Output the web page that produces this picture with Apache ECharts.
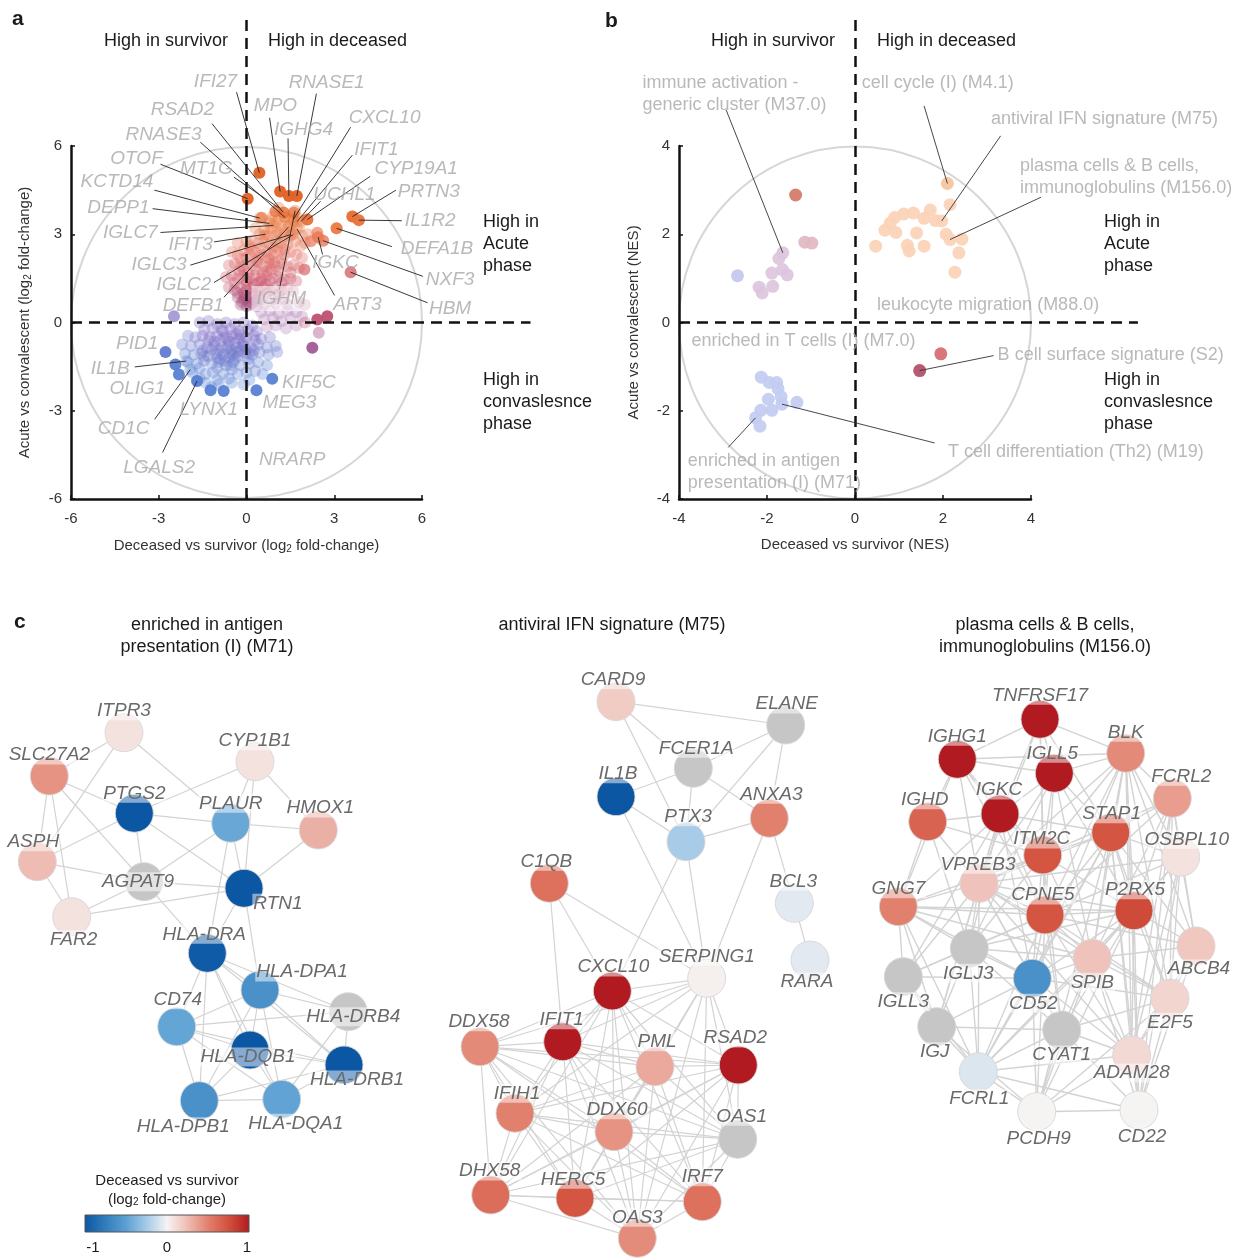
<!DOCTYPE html>
<html>
<head>
<meta charset="utf-8">
<title>Deceased vs survivor transcriptome</title>
<script src="https://cdn.jsdelivr.net/npm/echarts@6/dist/echarts.min.js"></script>
<style>
  html, body { margin: 0; padding: 0; background: #ffffff; }
  #chart { width: 1260px; height: 1258px; }
</style>
</head>
<body>
<div id="chart"></div>
<script>
// ================= DATA =================

// ---- a: genes, [deceased vs survivor log2FC, acute vs convalescent log2FC] ----
const aCloud = [
  [0.9,3.6],[1.1,3.5],[1.3,3.6],[1.5,3.5],[1.0,3.4],[1.6,3.4],[0.8,3.45],[1.2,3.3],[1.45,3.3],[1.75,3.55],
  [0.3,3.2],[0.6,3.15],[0.85,3.2],[1.05,3.1],[1.3,3.15],[1.55,3.1],[1.8,3.2],[0.45,3.0],[0.75,2.95],[1.0,2.95],[1.25,2.9],[1.5,2.95],[1.9,2.95],[2.1,3.0],
  [-0.3,2.7],[0.0,2.75],[0.2,2.8],[0.4,2.7],[0.6,2.75],[0.8,2.65],[1.0,2.75],[1.2,2.7],[1.4,2.65],[1.65,2.75],[1.85,2.6],[2.0,2.7],[0.1,2.6],[0.5,2.55],[0.9,2.55],[1.3,2.5],
  [-0.5,2.4],[-0.3,2.3],[-0.1,2.45],[0.1,2.35],[0.3,2.4],[0.5,2.3],[0.7,2.4],[0.9,2.3],[1.1,2.4],[1.3,2.3],[1.5,2.4],[1.7,2.3],[1.9,2.2],[0.0,2.2],[0.4,2.2],[0.8,2.15],[1.2,2.15],[-0.2,2.15],
  [-0.6,1.95],[-0.4,2.0],[-0.2,1.9],[0.0,2.0],[0.2,1.95],[0.4,2.05],[0.6,1.9],[0.8,2.0],[1.0,1.9],[1.2,2.0],[1.4,1.9],[1.6,1.95],[1.8,1.85],[-0.1,1.8],[0.3,1.8],[0.7,1.75],[1.1,1.75],[1.5,1.7],
  [-0.7,1.55],[-0.5,1.6],[-0.3,1.5],[-0.1,1.6],[0.1,1.5],[0.3,1.6],[0.5,1.5],[0.7,1.6],[0.9,1.5],[1.1,1.55],[1.3,1.45],[1.5,1.5],[1.7,1.4],[0.0,1.4],[0.4,1.35],[0.8,1.4],[1.2,1.35],[-0.4,1.35],
  [-0.6,1.2],[-0.4,1.1],[-0.2,1.2],[0.0,1.1],[0.2,1.2],[0.4,1.1],[0.6,1.2],[0.8,1.1],[1.0,1.2],[1.2,1.1],[1.4,1.15],[-0.1,1.0],[0.3,0.95],[0.7,1.0],[1.1,0.95],[1.6,1.05],
  [-0.3,0.85],[-0.1,0.8],[0.1,0.85],[0.3,0.75],[0.5,0.8],[0.9,0.8],[1.3,0.8],[-0.2,0.6],[0.0,0.55],[0.2,0.65],[0.6,0.6],[1.0,0.65],[1.4,0.6],[1.8,0.7],[2.0,0.6],
  [0.2,1.0],[0.5,1.4],[0.0,1.3],[-0.15,0.7],[0.05,0.7],[-0.05,0.9],
  [0.15,2.5],[0.35,2.1],[0.55,1.7],[0.75,2.2],[0.95,2.05],[0.25,1.3],[0.65,1.3],[0.85,1.8],[0.45,0.95],
  [0.05,1.65],[-0.25,1.75],[1.05,2.55],[0.6,2.95],[1.15,3.0],[-0.3,1.0],[0.15,0.6],[0.35,0.55],
  [0.5,0.35],[0.8,0.4],[1.1,0.3],[1.4,0.4],[1.7,0.35],[0.6,0.1],[0.9,0.15],[1.2,0.05],[1.5,0.15],[1.9,0.2],[0.7,-0.15],[1.0,-0.1],[1.35,-0.2],[1.7,-0.1],[2.0,0.0],
  [-1.6,0.0],[-1.3,0.05],[-1.0,-0.05],[-0.7,0.0],[-0.4,-0.05],[-0.1,0.0],[0.2,-0.1],[-1.45,-0.25],[-1.15,-0.2],[-0.85,-0.25],[-0.55,-0.2],[-0.25,-0.3],[0.05,-0.25],[0.35,-0.3],
  [-2.0,-0.45],[-1.75,-0.5],[-1.5,-0.45],[-1.25,-0.5],[-1.0,-0.45],[-0.75,-0.5],[-0.5,-0.45],[-0.25,-0.55],[0.0,-0.5],[0.25,-0.45],[0.5,-0.55],[0.8,-0.5],[-1.1,-0.65],[-0.6,-0.65],[-0.1,-0.65],
  [-2.2,-0.75],[-1.9,-0.8],[-1.6,-0.75],[-1.35,-0.85],[-1.1,-0.8],[-0.85,-0.85],[-0.6,-0.8],[-0.35,-0.85],[-0.1,-0.8],[0.15,-0.85],[0.4,-0.75],[0.7,-0.85],[1.0,-0.8],[-0.5,-0.95],[-0.2,-0.95],[-1.5,-0.95],
  [-2.1,-1.05],[-1.8,-1.1],[-1.55,-1.05],[-1.3,-1.15],[-1.05,-1.05],[-0.8,-1.1],[-0.55,-1.05],[-0.3,-1.15],[-0.05,-1.05],[0.2,-1.1],[0.45,-1.0],[0.75,-1.1],[1.05,-1.0],[-0.9,-1.25],[-0.4,-1.25],[0.05,-1.25],
  [-2.0,-1.35],[-1.7,-1.4],[-1.45,-1.3],[-1.2,-1.4],[-0.95,-1.35],[-0.7,-1.45],[-0.45,-1.35],[-0.2,-1.45],[0.1,-1.4],[0.4,-1.35],[0.7,-1.45],[-1.6,-1.55],[-1.0,-1.55],[-0.5,-1.6],
  [-1.85,-1.7],[-1.4,-1.75],[-1.15,-1.7],[-0.8,-1.75],[-0.3,-1.75],[0.0,-1.7],[0.3,-1.65],[0.55,-1.75],[-1.6,-1.9],[-1.0,-1.95],[-0.6,-1.9],[0.1,-1.95],
  [-1.4,-2.05],[-0.95,-2.1],[-0.5,-2.05],[-0.1,-2.1],[-1.2,-2.2],
  [-0.9,-0.6],[-0.7,-0.9],[-0.4,-0.7],[-0.2,-0.4],[-0.6,-1.2],[-0.3,-1.0],[0.0,-0.9],[-0.8,-0.3],[-1.2,-0.9],[0.3,-0.6],
  [-0.95,-0.95],[-0.65,-0.55],[-0.45,-1.1],[-0.15,-0.75],[-0.75,-1.3],[-1.3,-0.6],[-0.35,-0.4],[0.1,-1.05],
  [-1.0,-1.2],[-0.55,-1.45],[0.25,-0.95],[-1.45,-1.15]
];
const aSoft = [
  [0.99,3.78],[1.28,3.73],[1.62,3.73],[0.52,3.56],[2.42,3.05],[2.2,2.76],[2.62,2.78],[2.45,2.9],
  [1.98,1.8],[3.56,1.71],[2.47,-0.35],[-2.48,0.21]
];
const aSolid = [
  [0.44,5.09],[0.04,4.21],[1.15,4.45],[1.45,4.3],[1.72,4.3],[2.08,3.5],[3.08,3.2],[3.62,3.6],[3.84,3.48],
  [2.42,0.1],[2.76,0.21],[2.25,-0.86],
  [-2.77,-1.0],[-2.43,-1.43],[-2.31,-1.77],[-1.69,-1.99],[-1.23,-2.3],[-0.78,-2.33],[0.34,-2.3],[0.88,-1.91]
];
// annotated genes with their fold-changes
const aGenes = [
  ['IFI27',0.44,5.09],['RNASE1',1.72,4.3],['MPO',1.15,4.45],['RSAD2',1.25,3.75],['IGHG4',1.45,4.3],
  ['CXCL10',1.6,3.5],['RNASE3',1.32,3.57],['IFIT1',1.73,3.43],['OTOF',0.04,4.21],['MT1G',1.1,3.9],
  ['KCTD14',0.45,3.55],['DEPP1',0.78,3.37],['UCHL1',1.86,3.43],['CYP19A1',2.08,3.5],['PRTN3',3.62,3.6],
  ['IL1R2',3.84,3.48],['IGLC7',0.92,3.3],['DEFA1B',3.08,3.2],['IFIT3',0.65,3.0],['IGKC',2.45,2.9],
  ['NXF3',2.62,2.78],['IGLC3',1.52,2.99],['HBM',3.56,1.71],['IGLC2',1.6,2.99],['ART3',1.73,3.18],
  ['IGHM',1.66,3.8],['DEFB1',1.43,3.24],['IL1B',-2.06,-1.31],['CD1C',-1.92,-1.6],['LGALS2',-1.69,-1.99]
];

// ---- b: modules, [deceased vs survivor NES, acute vs convalescent NES] ----
const bUpperRight = [
  [2.1,3.15],[2.16,2.67],[1.71,2.55],[1.33,2.48],[1.11,2.46],[0.9,2.38],[1.57,2.36],[1.83,2.31],[1.97,2.3],
  [0.8,2.25],[0.68,2.09],[0.93,2.04],[1.4,2.03],[2.07,2.0],[0.47,1.73],[1.19,1.75],[1.57,1.73],[1.23,1.62],
  [2.16,1.88],[2.43,1.89],[2.36,1.58],[2.27,1.14]
];
const bUpperLeft = [
  [-1.35,2.89],[-1.14,1.82],[-0.98,1.80],[-1.64,1.58],[-1.73,1.45],[-1.65,1.2],[-1.54,1.08],[-1.89,1.12],
  [-2.67,1.06],[-2.18,0.8],[-1.87,0.82],[-2.11,0.67]
];
const bLowerLeft = [
  [-2.13,-1.24],[-1.95,-1.36],[-1.78,-1.36],[-1.75,-1.5],[-1.68,-1.68],[-1.97,-1.74],[-1.32,-1.81],
  [-1.66,-1.85],[-1.89,-1.99],[-2.14,-1.99],[-2.26,-2.16],[-2.16,-2.35]
];
const bLowerRight = [[1.95,-0.71],[1.47,-1.09]];
const bModules = [
  ['M37.0',-1.64,1.58],['M4.1',2.1,3.15],['M75',1.97,2.3],['M156.0',2.16,1.88],
  ['S2',1.47,-1.09],['M19',-1.66,-1.85],['M71',-2.26,-2.16]
];

// ---- c: module networks, node fold-change (null = not measured) ----
const n1Genes = ['ITPR3','SLC27A2','CYP1B1','PTGS2','PLAUR','HMOX1','ASPH','AGPAT9','RTN1','FAR2',
  'HLA-DRA','HLA-DPA1','HLA-DRB4','CD74','HLA-DQB1','HLA-DRB1','HLA-DPB1','HLA-DQA1'];
const n1FC = [0.08,0.42,0.08,-1,-0.45,0.3,0.25,null,-1,0.08,-0.97,-0.6,null,-0.47,-1,-1,-0.6,-0.48];
const n1Edges = {
  'ITPR3': 'SLC27A2 ASPH PLAUR',
  'SLC27A2': 'PTGS2 ASPH FAR2 AGPAT9',
  'CYP1B1': 'PTGS2 PLAUR RTN1 HMOX1',
  'PTGS2': 'PLAUR AGPAT9 ASPH RTN1',
  'PLAUR': 'HMOX1 AGPAT9 HLA-DRA RTN1',
  'HMOX1': 'RTN1',
  'ASPH': 'AGPAT9 FAR2',
  'AGPAT9': 'RTN1 FAR2 HLA-DRA',
  'FAR2': 'RTN1',
  'RTN1': 'HLA-DRA HLA-DPA1',
  'HLA-DRA': 'HLA-DPA1 CD74 HLA-DQB1 HLA-DRB4 HLA-DRB1 HLA-DPB1 HLA-DQA1',
  'HLA-DPA1': 'CD74 HLA-DRB4 HLA-DQB1 HLA-DRB1 HLA-DPB1 HLA-DQA1',
  'CD74': 'HLA-DRB4 HLA-DQB1 HLA-DPB1 HLA-DQA1 HLA-DRB1',
  'HLA-DQB1': 'HLA-DRB1 HLA-DPB1 HLA-DQA1',
  'HLA-DRB4': 'HLA-DRB1 HLA-DQA1',
  'HLA-DRB1': 'HLA-DQA1 HLA-DPB1',
  'HLA-DPB1': 'HLA-DQA1'
};

const n2Genes = ['CARD9','ELANE','FCER1A','IL1B','ANXA3','PTX3','C1QB','BCL3','RARA','SERPING1','CXCL10',
  'DDX58','IFIT1','PML','RSAD2','IFIH1','DDX60','OAS1','DHX58','HERC5','IRF7','OAS3'];
const n2FC = [0.18,null,null,-1,0.5,-0.24,0.58,-0.06,-0.06,0.02,1,0.46,1,0.33,1,0.5,0.42,null,0.6,0.72,0.58,0.45];
const n2Edges = {
  'CARD9': 'ELANE FCER1A PTX3',
  'ELANE': 'FCER1A ANXA3 PTX3',
  'FCER1A': 'IL1B PTX3 ANXA3',
  'IL1B': 'PTX3 SERPING1',
  'PTX3': 'ANXA3 CXCL10 SERPING1',
  'ANXA3': 'BCL3 SERPING1',
  'BCL3': 'RARA',
  'C1QB': 'SERPING1 CXCL10 IFIT1',
  'SERPING1': 'CXCL10 IFIT1 PML RSAD2 DDX60 OAS1 IRF7 OAS3 HERC5 IFIH1 DDX58',
  'CXCL10': 'DDX58 IFIT1 PML RSAD2 IFIH1 DDX60 OAS1 DHX58 HERC5 IRF7 OAS3',
  'DDX58': 'IFIT1 PML RSAD2 IFIH1 DDX60 OAS1 DHX58 HERC5 IRF7 OAS3',
  'IFIT1': 'PML RSAD2 IFIH1 DDX60 OAS1 DHX58 HERC5 IRF7 OAS3',
  'PML': 'RSAD2 IFIH1 DDX60 OAS1 DHX58 HERC5 IRF7 OAS3',
  'RSAD2': 'IFIH1 DDX60 OAS1 DHX58 HERC5 IRF7 OAS3',
  'IFIH1': 'DDX60 OAS1 DHX58 HERC5 IRF7 OAS3',
  'DDX60': 'OAS1 DHX58 HERC5 IRF7 OAS3',
  'OAS1': 'DHX58 HERC5 IRF7 OAS3',
  'DHX58': 'HERC5 IRF7 OAS3',
  'HERC5': 'IRF7 OAS3',
  'IRF7': 'OAS3'
};

const n3Genes = ['TNFRSF17','IGHG1','BLK','IGLL5','FCRL2','IGKC','IGHD','STAP1','OSBPL10','ITM2C','VPREB3',
  'GNG7','CPNE5','P2RX5','IGLJ3','ABCB4','SPIB','IGLL3','CD52','E2F5','IGJ','CYAT1','ADAM28','FCRL1','PCDH9','CD22'];
const n3FC = [1,1,0.46,1,0.38,1,0.65,0.72,0.08,0.72,0.22,0.5,0.72,0.78,null,0.2,0.22,null,-0.6,0.14,null,null,0.12,-0.08,0,0];
const n3Edges = {
  'TNFRSF17': 'IGLL5 IGKC ITM2C VPREB3 CPNE5 BLK IGHG1 STAP1',
  'IGHG1': 'IGLL5 IGKC IGHD VPREB3 ITM2C CPNE5 GNG7 BLK',
  'BLK': 'IGLL5 FCRL2 STAP1 ITM2C OSBPL10 P2RX5 SPIB E2F5 ADAM28 CD22 CPNE5 VPREB3 ABCB4 CD52',
  'IGLL5': 'IGKC ITM2C STAP1 CPNE5 VPREB3 P2RX5 IGLJ3 SPIB',
  'FCRL2': 'STAP1 OSBPL10 P2RX5 ABCB4 E2F5 ADAM28 CD22 SPIB ITM2C CPNE5',
  'IGKC': 'IGHD ITM2C VPREB3 CPNE5 IGLJ3 GNG7 IGLL3 STAP1 CD52 IGJ',
  'IGHD': 'VPREB3 GNG7 ITM2C IGLJ3',
  'STAP1': 'ITM2C OSBPL10 P2RX5 CPNE5 SPIB ABCB4 E2F5 ADAM28 CD22 VPREB3 CD52 PCDH9 FCRL1',
  'OSBPL10': 'P2RX5 ABCB4 E2F5 ADAM28 CD22 CPNE5 SPIB VPREB3',
  'ITM2C': 'VPREB3 CPNE5 P2RX5 IGLJ3 SPIB CD52 GNG7 CYAT1',
  'VPREB3': 'GNG7 CPNE5 IGLJ3 IGLL3 CD52 P2RX5 SPIB IGJ FCRL1 ADAM28 CYAT1 E2F5',
  'GNG7': 'IGLJ3 IGLL3 CPNE5 CD52 IGJ FCRL1 SPIB P2RX5',
  'CPNE5': 'P2RX5 IGLJ3 SPIB CD52 CYAT1 ADAM28 FCRL1 E2F5 IGLL3 PCDH9 ABCB4',
  'P2RX5': 'SPIB ABCB4 E2F5 ADAM28 CD22 CYAT1 CD52 PCDH9 FCRL1 IGLJ3',
  'IGLJ3': 'IGLL3 CD52 IGJ SPIB FCRL1 CYAT1',
  'ABCB4': 'E2F5 ADAM28 CD22 SPIB',
  'SPIB': 'CD52 E2F5 ADAM28 CYAT1 CD22 FCRL1 PCDH9',
  'IGLL3': 'IGJ CD52 FCRL1',
  'CD52': 'CYAT1 IGJ FCRL1 ADAM28 PCDH9 E2F5',
  'E2F5': 'ADAM28 CD22 CYAT1 PCDH9',
  'IGJ': 'FCRL1 PCDH9 CYAT1',
  'CYAT1': 'ADAM28 PCDH9 FCRL1 CD22',
  'ADAM28': 'CD22 PCDH9 FCRL1',
  'FCRL1': 'PCDH9 CD22',
  'PCDH9': 'CD22'
};

// ================= LAYOUT =================

// network layouts (layout units, y grows downwards)
const n1Layout = {
  'ITPR3':[12.4,5.27],'SLC27A2':[4.93,9.6],'CYP1B1':[25.5,8.17],'PTGS2':[13.43,13.33],'PLAUR':[23.07,14.33],
  'HMOX1':[31.83,15.0],'ASPH':[3.73,18.17],'AGPAT9':[14.4,20.17],'RTN1':[24.4,20.83],'FAR2':[7.17,23.67],
  'HLA-DRA':[20.73,27.33],'HLA-DPA1':[26.0,31.0],'HLA-DRB4':[34.83,33.17],'CD74':[17.67,34.67],
  'HLA-DQB1':[25.0,37.0],'HLA-DRB1':[34.4,38.5],'HLA-DPB1':[19.93,42.07],'HLA-DQA1':[28.17,41.93]
};
const n2Layout = {
  'CARD9':[18.6,2.17],'ELANE':[35.57,4.5],'FCER1A':[26.33,8.83],'IL1B':[18.6,11.67],'ANXA3':[33.93,13.83],
  'PTX3':[25.6,16.17],'C1QB':[11.93,20.33],'BCL3':[36.43,22.33],'RARA':[38.0,28.0],'SERPING1':[27.67,29.83],
  'CXCL10':[18.23,31.1],'DDX58':[5.0,36.67],'IFIT1':[13.27,36.17],'PML':[22.5,38.67],'RSAD2':[30.83,38.5],
  'IFIH1':[8.5,43.33],'DDX60':[18.4,45.17],'OAS1':[30.77,45.93],'DHX58':[6.07,51.5],'HERC5':[14.5,51.83],
  'IRF7':[27.23,52.17],'OAS3':[20.73,55.83]
};
const n3Layout = {
  'TNFRSF17':[18.0,3.93],'IGHG1':[9.73,7.93],'BLK':[26.57,7.33],'IGLL5':[19.43,9.33],'FCRL2':[31.23,11.83],
  'IGKC':[14.0,13.4],'IGHD':[6.77,14.17],'STAP1':[25.07,15.27],'OSBPL10':[32.07,17.73],'ITM2C':[18.27,17.5],
  'VPREB3':[11.9,20.33],'GNG7':[3.83,22.67],'CPNE5':[18.5,23.5],'P2RX5':[27.4,23.07],'IGLJ3':[10.93,26.83],
  'ABCB4':[33.6,26.6],'SPIB':[23.23,27.83],'IGLL3':[4.33,29.67],'CD52':[17.23,29.83],'E2F5':[31.0,31.83],
  'IGJ':[7.67,34.67],'CYAT1':[20.17,35.0],'ADAM28':[27.17,37.5],'FCRL1':[11.83,39.17],'PCDH9':[17.67,43.17],
  'CD22':[27.9,43.0]
};

// node label offsets (px from node centre)
const labelOffset = {
  'ITPR3':[0,-22],'SLC27A2':[0,-21],'CYP1B1':[0,-21],'PTGS2':[0,-20],'PLAUR':[0,-20],'HMOX1':[2,-22],
  'ASPH':[-4,-20],'AGPAT9':[-6,0],'RTN1':[34,15],'FAR2':[2,23],'HLA-DRA':[-3,-19],'HLA-DPA1':[42,-18],
  'HLA-DRB4':[5,5],'CD74':[1,-27],'HLA-DQB1':[-2,7],'HLA-DRB1':[13,15],'HLA-DPB1':[-16,26],'HLA-DQA1':[14,24],
  'CARD9':[-3,-22],'ELANE':[1,-21],'FCER1A':[3,-20],'IL1B':[2,-23],'ANXA3':[2,-24],'PTX3':[2,-25],
  'C1QB':[-3,-22],'BCL3':[-1,-22],'RARA':[-3,22],'SERPING1':[0,-22],'CXCL10':[1,-24],'DDX58':[-1,-25],
  'IFIT1':[-1,-22],'PML':[2,-25],'RSAD2':[-3,-27],'IFIH1':[2,-20],'DDX60':[3,-22],'OAS1':[4,-23],
  'DHX58':[-1,-24],'HERC5':[-2,-19],'IRF7':[0,-25],'OAS3':[0,-21],
  'TNFRSF17':[0,-24],'IGHG1':[0,-23],'BLK':[0,-21],'IGLL5':[-2,-20],'FCRL2':[9,-22],'IGKC':[-1,-24],
  'IGHD':[-3,-22],'STAP1':[1,-19],'OSBPL10':[6,-18],'ITM2C':[-1,-16],'VPREB3':[-1,-19],'GNG7':[0,-18],
  'CPNE5':[-2,-20],'P2RX5':[1,-21],'IGLJ3':[-1,25],'ABCB4':[3,23],'SPIB':[0,24],'IGLL3':[0,25],
  'CD52':[1,25],'E2F5':[0,24],'IGJ':[-2,25],'CYAT1':[0,25],'ADAM28':[0,18],'FCRL1':[1,27],
  'PCDH9':[2,27],'CD22':[3,27]
};

// gene call-outs in a: text centre and leader start, in axis units
const aCallouts = {
  'IFI27':{at:[-1.06,8.19],from:[-0.34,7.83]}, 'RNASE1':{at:[2.74,8.15],from:[2.39,7.78]},
  'MPO':{at:[0.99,7.37],from:[0.79,6.96]}, 'RSAD2':{at:[-2.19,7.25],from:[-1.18,6.76]},
  'IGHG4':{at:[1.95,6.57],from:[1.42,6.26]}, 'CXCL10':{at:[4.72,6.95],from:[3.56,6.64]},
  'RNASE3':{at:[-2.84,6.37],from:[-1.58,6.13]}, 'IFIT1':{at:[4.44,5.89],from:[3.62,5.69]},
  'OTOF':{at:[-3.76,5.57],from:[-2.94,5.38]}, 'MT1G':{at:[-1.37,5.22],from:[-0.43,4.94]},
  'KCTD14':{at:[-4.43,4.78],from:[-3.15,4.5]}, 'DEPP1':{at:[-4.38,3.9],from:[-3.21,3.87]},
  'UCHL1':{at:[3.35,4.35],from:[2.53,4.12]}, 'CYP19A1':{at:[5.8,5.22],from:[4.23,4.97]},
  'PRTN3':{at:[6.23,4.44],from:[5.11,4.5]}, 'IL1R2':{at:[6.28,3.46],from:[5.31,3.46]},
  'IGLC7':{at:[-3.97,3.06],from:[-2.94,3.06]}, 'DEFA1B':{at:[6.51,2.51],from:[4.97,2.58]},
  'IFIT3':{at:[-1.91,2.64],from:[-1.11,2.74]}, 'IGKC':{at:[3.04,2.02],from:[2.6,2.31]},
  'NXF3':{at:[6.96,1.45],from:[6.03,1.57]}, 'IGLC3':{at:[-2.99,1.95],from:[-1.92,1.95]},
  'HBM':{at:[6.96,0.48],from:[6.19,0.67]}, 'IGLC2':{at:[-2.14,1.29],from:[-1.11,1.36]},
  'ART3':{at:[3.79,0.6],from:[3.01,0.92]}, 'IGHM':{at:[1.19,0.82],from:[1.12,1.11]},
  'DEFB1':{at:[-1.82,0.57],from:[-0.77,0.86]}, 'PID1':{at:[-3.74,-0.71]},
  'IL1B':{at:[-4.66,-1.56],from:[-3.82,-1.51]}, 'OLIG1':{at:[-3.73,-2.25]},
  'KIF5C':{at:[2.13,-2.06]}, 'MEG3':{at:[1.47,-2.73]}, 'LYNX1':{at:[-1.29,-2.98]},
  'CD1C':{at:[-4.2,-3.6],from:[-3.14,-3.29]}, 'LGALS2':{at:[-2.99,-4.93],from:[-2.87,-4.42]},
  'NRARP':{at:[1.56,-4.67]}
};

// module call-outs in b: left edge / vertical centre and leader start, in axis units
const bCallouts = [
  {text:'immune activation -\ngeneric cluster (M37.0)', id:'M37.0', at:[-4.84,5.18], from:[-2.93,4.82]},
  {text:'cell cycle (I) (M4.1)', id:'M4.1', at:[0.14,5.43], from:[1.57,4.91]},
  {text:'antiviral IFN signature (M75)', id:'M75', at:[3.08,4.61], from:[3.31,4.23]},
  {text:'plasma cells & B cells,\nimmunoglobulins (M156.0)', id:'M156.0', at:[3.74,3.3], from:[4.23,2.84]},
  {text:'leukocyte migration (M88.0)', at:[0.49,0.4]},
  {text:'enriched in T cells (I) (M7.0)', at:[-3.73,-0.41]},
  {text:'B cell surface signature (S2)', id:'S2', at:[3.23,-0.73], from:[3.15,-0.75]},
  {text:'T cell differentiation (Th2) (M19)', id:'M19', at:[2.1,-2.93], from:[1.81,-2.73]},
  {text:'enriched in antigen\npresentation (I) (M71)', id:'M71', at:[-3.81,-3.38], from:[-2.88,-2.83]}
];

// ================= STYLE HELPERS =================
const FONT = '"Liberation Sans", Arial, Helvetica, sans-serif';

function mix(stops, t) {
  if (t <= stops[0][0]) return stops[0][1];
  for (let i = 1; i < stops.length; i++) {
    if (t <= stops[i][0]) {
      const t0 = stops[i - 1][0], c0 = stops[i - 1][1], t1 = stops[i][0], c1 = stops[i][1];
      const f = (t - t0) / (t1 - t0);
      return c0.map((v, k) => Math.round(v + (c1[k] - v) * f));
    }
  }
  return stops[stops.length - 1][1];
}
const rgb = c => 'rgb(' + c.join(',') + ')';
const clamp01 = v => Math.max(0, Math.min(1, v));

const UPPER = [[0,[150,62,120]],[0.25,[200,80,105]],[0.55,[226,105,90]],[0.85,[236,125,70]],[1,[226,98,38]]];
const LOWER = [[0,[128,105,195]],[1,[88,128,210]]];
function aColour(x, y) {
  if (x > 1.9 && y < 0.5) return rgb(y > -0.2 ? [190,80,112] : (y > -0.6 ? [200,140,180] : [160,90,150]));
  if (y > 0.45) return rgb(mix(UPPER, (y - 0.5) / 3.3));
  if (x > 0.3 && y > -0.3) return rgb([178,128,182]);
  const t = clamp01((-y - 0.3) / 1.6 + (x < -1.6 ? 0.35 : 0) + (x > 0.3 ? 0.2 : 0));
  return rgb(mix(LOWER, t));
}
function bColour(x, y) {
  if (x > 0 && y > 0) return y > 3 ? '#f5c39c' : '#fbd3b6';
  if (x < 0 && y > 0) {
    if (y > 2.5) return '#d27868';
    if (x > -1.2) return '#e2b8c2';
    if (x < -2.4) return '#c4c6ee';
    return '#dcc5dc';
  }
  if (x < 0) return '#c2ccf1';
  return y > -0.9 ? '#d66a6e' : '#b24c66';
}
const FC_STOPS = [[0,[11,87,164]],[0.25,[90,160,210]],[0.4,[180,210,234]],[0.5,[246,243,243]],
  [0.6,[240,200,192]],[0.75,[226,128,110]],[0.875,[210,80,60]],[1,[176,26,32]]];
function fcColour(v) {
  return v == null ? '#c6c6c6' : rgb(mix(FC_STOPS, clamp01((v + 1) / 2)));
}

// ================= SERIES BUILDERS =================
function axisPair(gridIndex, lo, hi, step, xName, yName, yGap) {
  const common = {
    gridIndex, type: 'value', min: lo, max: hi, interval: step,
    axisLine: { show: true, onZero: false, lineStyle: { color: '#111', width: 2.5 } },
    axisTick: { show: true, inside: true, length: 4, lineStyle: { color: '#111', width: 1.5 } },
    splitLine: { show: false },
    nameLocation: 'middle',
    nameTextStyle: { fontSize: 15, color: '#333', fontFamily: FONT,
      rich: { s: { fontSize: 10, color: '#333', fontFamily: FONT, padding: [7, 0, 0, 0] } } }
  };
  return {
    x: Object.assign({}, common, { name: xName, nameGap: 38,
      axisLabel: { fontSize: 15, color: '#333', margin: 12, fontFamily: FONT } }),
    y: Object.assign({}, common, { name: yName, nameGap: yGap,
      axisLabel: { fontSize: 15, color: '#333', margin: 9, fontFamily: FONT } })
  };
}

function scatterSeries(gi, data, size, opacity, colourFn, z) {
  return {
    type: 'scatter', xAxisIndex: gi, yAxisIndex: gi, data: data, symbolSize: size, z: z || 2,
    silent: true, animation: false,
    itemStyle: { opacity: opacity, color: p => colourFn(p.value[0], p.value[1]) }
  };
}

function linesSeries(gi, segs, style, z) {
  return {
    type: 'lines', coordinateSystem: 'cartesian2d', xAxisIndex: gi, yAxisIndex: gi,
    data: segs.map(s => ({ coords: s })), lineStyle: style, silent: true, clip: false,
    polyline: false, z: z, animation: false
  };
}

function textSeries(gi, items, labelStyle, z) {
  return {
    type: 'scatter', xAxisIndex: gi, yAxisIndex: gi, symbolSize: 1, clip: false, silent: true, z: z,
    itemStyle: { color: 'rgba(0,0,0,0)' }, animation: false,
    label: Object.assign({ show: true, formatter: '{b}', fontFamily: FONT }, labelStyle),
    data: items
  };
}

function edgeList(adj) {
  const out = [];
  Object.keys(adj).forEach(src => adj[src].split(' ').forEach(t => out.push({ source: src, target: t })));
  return out;
}

function networkSeries(gi, genes, fc, layout, adj, edgeWidth) {
  return {
    type: 'graph', layout: 'none', coordinateSystem: 'cartesian2d', xAxisIndex: gi, yAxisIndex: gi,
    symbol: 'circle', symbolSize: 38, silent: true, animation: false, z: 3,
    data: genes.map((g, i) => ({
      name: g, value: layout[g],
      itemStyle: { color: fcColour(fc[i]), borderColor: 'rgba(215,215,215,0.9)', borderWidth: 1 },
      label: { offset: labelOffset[g] }
    })),
    links: edgeList(adj),
    lineStyle: { color: '#d3d3d3', width: edgeWidth, opacity: 1, curveness: 0 },
    label: {
      show: true, position: 'inside', formatter: '{b}', fontStyle: 'italic', fontSize: 19,
      color: '#6a6a6a', fontFamily: FONT, backgroundColor: 'rgba(255,255,255,0.5)', padding: [0, 1]
    },
    emphasis: { disabled: true }
  };
}

// ================= OPTION =================
const axA = axisPair(0, -6, 6, 3, 'Deceased vs survivor (log{s|2} fold-change)',
  'Acute vs convalescent (log{s|2} fold-change)', 38);
const axB = axisPair(1, -4, 4, 2, 'Deceased vs survivor (NES)', 'Acute vs convalescent (NES)', 38);
const hiddenAxis = (gi, max, inv) => ({ gridIndex: gi, type: 'value', min: 0, max: max, show: false, inverse: !!inv });

const aGeneMap = {};
aGenes.forEach(g => { aGeneMap[g[0]] = [g[1], g[2]]; });
const bModuleMap = {};
bModules.forEach(m => { bModuleMap[m[0]] = [m[1], m[2]]; });

const zeroStyle = { color: '#111', width: 2.5, type: [11, 7], opacity: 1 };
const leaderA = Object.keys(aCallouts).filter(n => aCallouts[n].from).map(n => [aCallouts[n].from, aGeneMap[n]]);
const leaderB = bCallouts.filter(c => c.from).map(c => [c.from, bModuleMap[c.id]]);

const aLabelItems = Object.keys(aCallouts).map(n => {
  const item = { name: n, value: aCallouts[n].at };
  if (n === 'IGHM') item.label = { backgroundColor: 'rgba(255,255,255,0.7)', padding: [3, 5] };
  return item;
});
const bLabelItems = bCallouts.map(c => ({ name: c.text, value: c.at }));

const gridBase = { containLabel: false, outerBoundsMode: 'none' };
const option = {
  animation: false,
  backgroundColor: '#ffffff',
  textStyle: { fontFamily: FONT },
  grid: [
    Object.assign({ left: 71, top: 146, width: 351, height: 353 }, gridBase),
    Object.assign({ left: 679, top: 146, width: 352, height: 353 }, gridBase),
    Object.assign({ left: 0, top: 680, width: 420, height: 480 }, gridBase),
    Object.assign({ left: 430, top: 680, width: 420, height: 580 }, gridBase),
    Object.assign({ left: 860, top: 680, width: 400, height: 460 }, gridBase)
  ],
  xAxis: [axA.x, axB.x, hiddenAxis(2, 42), hiddenAxis(3, 42), hiddenAxis(4, 40)],
  yAxis: [axA.y, axB.y, hiddenAxis(2, 48, true), hiddenAxis(3, 58, true), hiddenAxis(4, 46, true)],
  series: [
    // a
    scatterSeries(0, aCloud.concat(aGenes.map(g => [g[1], g[2]])), 12, 0.32, aColour, 2),
    scatterSeries(0, aSoft, 12, 0.65, aColour, 3),
    scatterSeries(0, aSolid, 12, 0.95, aColour, 4),
    linesSeries(0, [[[0, -6], [0, 10.46]], [[-6, 0], [9.71, 0]]], zeroStyle, 5),
    linesSeries(0, leaderA, { color: '#222', width: 0.9, opacity: 1 }, 6),
    textSeries(0, aLabelItems, { position: 'inside', fontStyle: 'italic', fontSize: 19, color: '#a8a8a8' }, 7),
    // b
    scatterSeries(1, bUpperRight.concat(bUpperLeft, bLowerLeft, bLowerRight), 13, 0.92, bColour, 3),
    linesSeries(1, [[[0, -4], [0, 7.0]], [[-4, 0], [6.43, 0]]], zeroStyle, 5),
    linesSeries(1, leaderB, { color: '#333', width: 0.9, opacity: 1 }, 6),
    textSeries(1, bLabelItems, { position: 'right', distance: 0, align: 'left', fontSize: 18,
      lineHeight: 22, color: '#a8a8a8' }, 7),
    // c
    networkSeries(2, n1Genes, n1FC, n1Layout, n1Edges, 1.2),
    networkSeries(3, n2Genes, n2FC, n2Layout, n2Edges, 1.2),
    networkSeries(4, n3Genes, n3FC, n3Layout, n3Edges, 1.4)
  ]
};

const chart = echarts.init(document.getElementById('chart'), null, { renderer: 'canvas' });
chart.setOption(option);

// ================= ANNOTATIONS =================
function txt(x, y, s, o) {
  o = o || {};
  return {
    type: 'text', x: x, y: y, silent: true, z: 10,
    style: {
      text: s, fill: o.fill || '#1a1a1a', align: o.align || 'left', verticalAlign: o.va || 'middle',
      font: (o.weight || 'normal') + ' ' + (o.size || 18) + 'px ' + FONT, lineHeight: o.lh || 22
    }
  };
}
const ca = chart.convertToPixel({ seriesIndex: 0 }, [0, 0]);
const ra = chart.convertToPixel({ seriesIndex: 0 }, [6, 0])[0] - ca[0];
const cb = chart.convertToPixel({ seriesIndex: 6 }, [0, 0]);
const rb = chart.convertToPixel({ seriesIndex: 6 }, [4, 0])[0] - cb[0];

const gradStops = FC_STOPS.map(s => ({ offset: s[0], color: rgb(s[1]) }));
const graphics = [
  { type: 'circle', shape: { cx: ca[0], cy: ca[1], r: ra }, style: { fill: 'none', stroke: '#d6d6d6', lineWidth: 2 }, z: 0, silent: true },
  { type: 'circle', shape: { cx: cb[0], cy: cb[1], r: rb }, style: { fill: 'none', stroke: '#d6d6d6', lineWidth: 2 }, z: 0, silent: true },
  txt(12, 19, 'a', { weight: 'bold', size: 21 }),
  txt(605, 21, 'b', { weight: 'bold', size: 21 }),
  txt(14, 622, 'c', { weight: 'bold', size: 21 }),
  txt(228, 41, 'High in survivor', { align: 'right' }),
  txt(268, 41, 'High in deceased'),
  txt(483, 244, 'High in\nAcute\nphase'),
  txt(483, 402, 'High in\nconvaslesnce\nphase'),
  txt(835, 41, 'High in survivor', { align: 'right' }),
  txt(877, 41, 'High in deceased'),
  txt(1104, 244, 'High in\nAcute\nphase'),
  txt(1104, 402, 'High in\nconvaslesnce\nphase'),
  txt(207, 636, 'enriched in antigen\npresentation (I) (M71)', { align: 'center' }),
  txt(612, 625, 'antiviral IFN signature (M75)', { align: 'center' }),
  txt(1045, 636, 'plasma cells & B cells,\nimmunoglobulins (M156.0)', { align: 'center' }),
  // colour key for node fill
  {
    type: 'rect', shape: { x: 85, y: 1215, width: 164, height: 17 }, silent: true, z: 10,
    style: { fill: new echarts.graphic.LinearGradient(0, 0, 1, 0, gradStops), stroke: '#555', lineWidth: 1 }
  },
  {
    type: 'text', x: 167, y: 1190, silent: true, z: 10,
    style: {
      text: 'Deceased vs survivor\n(log{s|2} fold-change)', align: 'center', verticalAlign: 'middle',
      fill: '#222', font: '15px ' + FONT, lineHeight: 19,
      rich: { s: { fontSize: 10, fill: '#222', fontFamily: FONT, padding: [6, 0, 0, 0] } }
    }
  },
  txt(93, 1248, '-1', { align: 'center', size: 15 }),
  txt(167, 1248, '0', { align: 'center', size: 15 }),
  txt(247, 1248, '1', { align: 'center', size: 15 })
];
chart.setOption({ graphic: graphics });
</script>
</body>
</html>
